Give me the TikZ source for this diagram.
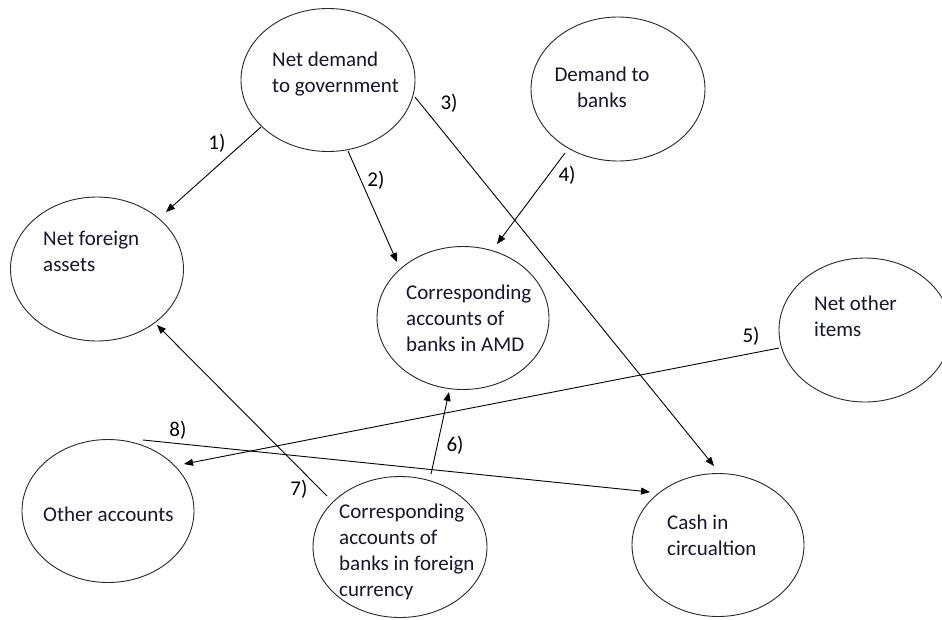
\documentclass[tikz,border=0pt]{standalone}
\usepackage{fontspec}
\setmainfont{Carlito}
\usetikzlibrary{shapes.geometric,arrows.meta}
\definecolor{txt}{RGB}{22,22,44}
\definecolor{edge}{RGB}{40,40,40}
\tikzset{
  oval/.style={ellipse, draw=edge, line width=0.9pt, inner sep=0pt},
  lbl/.style={font=\fontsize{21}{26}\selectfont, text=txt, inner sep=0pt, align=left, anchor=north west},
  num/.style={font=\fontsize{21}{26}\selectfont, text=black, inner sep=0pt},
  conn/.style={draw=black, line width=0.9pt, -{Triangle[length=9pt,width=7pt]}}
}
\begin{document}
\begin{tikzpicture}[x=1pt,y=-1pt]
\useasboundingbox (0,0) rectangle (942,619);
\clip (0,0) rectangle (942,619);
\fill[white] (0,0) rectangle (942,619);
% ellipses
\node[oval, minimum width=174pt, minimum height=143pt] (ndg) at (328,80) {};
\node[oval, minimum width=174pt, minimum height=144pt] (dtb) at (618,89) {};
\node[oval, minimum width=173pt, minimum height=144pt] (nfa) at (97,269) {};
\node[oval, minimum width=172pt, minimum height=143pt] (amd) at (463,318) {};
\node[oval, minimum width=172pt, minimum height=144pt] (noi) at (865,330) {};
\node[oval, minimum width=172pt, minimum height=143pt] (oth) at (108,511) {};
\node[oval, minimum width=174pt, minimum height=141pt] (fc) at (400,547) {};
\node[oval, minimum width=172pt, minimum height=143pt] (cash) at (718,545) {};
% texts
\node[lbl] (ndgT) at (272,52) {Net demand\\to government};
\node[lbl, align=center, anchor=north] (dtbT) at (602,67) {Demand to\\banks};
\node[lbl] (nfaT) at (43,231) {Net foreign\\assets};
\node[lbl] (amdT) at (406,285) {Corresponding\\accounts of\\banks in AMD};
\node[lbl] (noiT) at (814,296) {Net other\\items};
\node[lbl] (othT) at (43,507) {Other accounts};
\node[lbl] (fcT) at (339,504) {Corresponding\\accounts of\\banks in foreign\\currency};
\node[lbl] (cashT) at (667,515) {Cash in\\circualtion};
% connectors
\draw[conn] ([shift={(-67,47)}]ndg.center) -- ([shift={(69,-57)}]nfa.center);
\draw[conn] ([shift={(20,71)}]ndg.center) -- ([shift={(-66,-56)}]amd.center);
\draw[conn] ([shift={(87,17)}]ndg.center) -- ([shift={(-4,-79)}]cash.center);
\draw[conn] ([shift={(-53,64)}]dtb.center) -- ([shift={(34,-74)}]amd.center);
\draw[conn] ([shift={(-86,18)}]noi.center) -- ([shift={(76,-47)}]oth.center);
\draw[conn] ([shift={(31,-73)}]fc.center) -- ([shift={(-14,74)}]amd.center);
\draw[conn] ([shift={(-73,-51)}]fc.center) -- ([shift={(60,56)}]nfa.center);
\draw[conn] ([shift={(35,-71)}]oth.center) -- ([shift={(-68,-53)}]cash.center);
% numbers
\node[num] (n1) at (217,143) {1)};
\node[num] (n2) at (376,180) {2)};
\node[num] (n3) at (449,103) {3)};
\node[num] (n4) at (567,175) {4)};
\node[num] (n5) at (751,336) {5)};
\node[num] (n6) at (455,445) {6)};
\node[num] (n7) at (299,489) {7)};
\node[num] (n8) at (178,430) {8)};
\end{tikzpicture}
\end{document}
